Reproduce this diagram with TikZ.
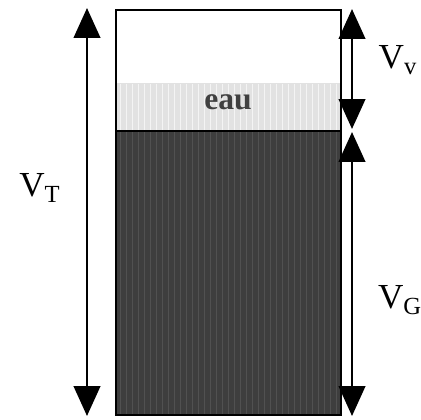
\documentclass[tikz,border=0pt]{standalone}
\usepackage{fontspec}
\setmainfont{Liberation Serif}
\usepackage{xcolor}
\usetikzlibrary{arrows.meta,positioning,calc}

\definecolor{solgris}{HTML}{3E3E3E}
\definecolor{eaugris}{HTML}{E2E2E2}

\tikzset{
  fleche/.style={line width=1.6pt, {Triangle[width=15pt,length=17pt]}-{Triangle[width=15pt,length=17pt]}},
  vlabel/.style={font=\fontsize{20}{24}\selectfont, inner sep=0pt}
}

\begin{document}
\begin{tikzpicture}[x=0.02cm, y=-0.02cm]
  \useasboundingbox (0,0) rectangle (421,419);
  % phases
  \fill[eaugris] (116,83) rectangle (341,131);
  \fill[solgris] (116,131) rectangle (341,415);
  \foreach \i in {120,126,...,338} {
    \draw[white!60!eaugris, line width=0.5pt] (\i,84) -- (\i,130);
    \draw[solgris!90!white, line width=0.5pt] (\i,132) -- (\i,414);
  }
  \draw[line width=1.2pt] (116,131) -- (341,131);
  \draw[line width=1.2pt] (116,10) rectangle (341,415);
  \node[font=\bfseries\fontsize{18}{20}\selectfont, text=black!75] (eau) at (228,102) {eau};
  % cotes
  \coordinate (tHaut) at (87,8);
  \coordinate (tBas) at (87,416);
  \coordinate (vHaut) at (352,9);
  \coordinate (vBas) at (352,129);
  \coordinate (gHaut) at (352,132);
  \coordinate (gBas) at (352,416);
  \draw[fleche] (tHaut) -- (tBas);
  \draw[fleche] (vHaut) -- (vBas);
  \draw[fleche] (gHaut) -- (gBas);
  \node[vlabel] (VT) at (40,188) {V\textsubscript{T}};
  \node[vlabel] (Vv) at (398,60) {V\textsubscript{v}};
  \node[vlabel] (VG) at (400,300) {V\textsubscript{G}};
\end{tikzpicture}
\end{document}
